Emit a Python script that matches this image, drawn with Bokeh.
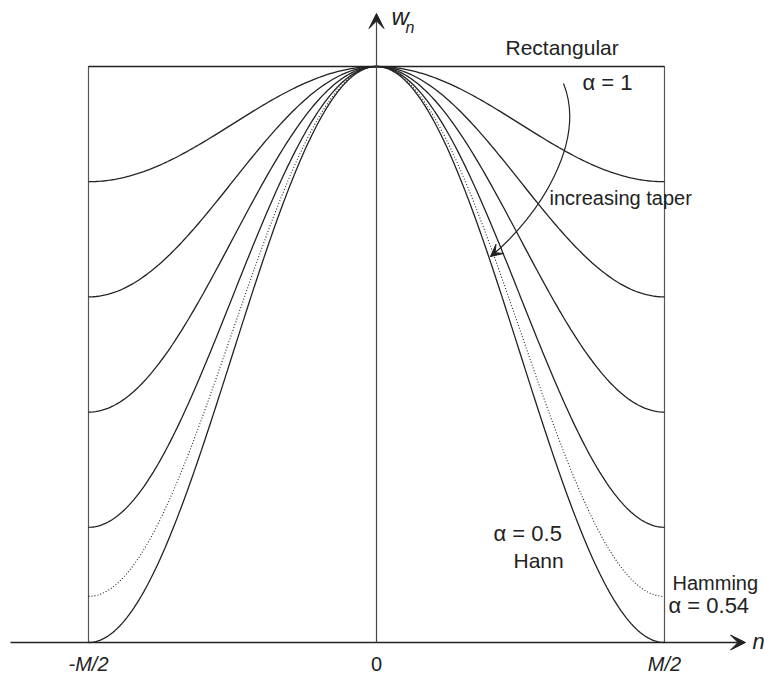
import numpy as np
from bokeh.plotting import figure
from bokeh.models import Range1d, Label, Arrow, VeeHead
from bokeh.embed import file_html
from bokeh.resources import INLINE

# ---- data ----
window_names = ["Rectangular", "a=0.9", "a=0.8", "a=0.7", "a=0.6", "Hamming", "Hann"]
alphas = [1.0, 0.9, 0.8, 0.7, 0.6, 0.54, 0.5]
dashes = ["solid", "solid", "solid", "solid", "solid", "1 2", "solid"]
x_tick_labels = ["-M/2", "0", "M/2"]
x_tick_values = [-0.5, 0.0, 0.5]
x_tick_italic = [True, False, True]

FONT = "Liberation Sans"
INK = "#222222"

# pixel geometry helpers (frame covers whole canvas)
W, H = 764, 675
X0, XS = 376.0, 576.0   # pixel of n=0, pixels per unit n/M
Y0, YS = 642.0, 576.0   # pixel of w=0, pixels per unit w


def dx(px):
    return (px - X0) / XS


def dy(py):
    return (Y0 - py) / YS


p = figure(width=W, height=H, output_backend="svg", toolbar_location=None,
           x_range=Range1d(dx(0), dx(W)), y_range=Range1d(dy(H), dy(0)),
           min_border=0, min_border_left=0, min_border_right=0,
           min_border_top=0, min_border_bottom=0)
p.axis.visible = False
p.grid.visible = False
p.outline_line_color = None
p.background_fill_color = "white"
p.border_fill_color = "white"

# box (window support)
p.line([-0.5, -0.5, 0.5, 0.5], [0.0, 1.0, 1.0, 0.0], line_color="#555555", line_width=1.2)

# window curves  w(n) = alpha + (1 - alpha) cos(2 pi n / M)
n = np.linspace(-0.5, 0.5, 241)
for name, a, d in zip(window_names, alphas, dashes):
    w = a + (1 - a) * np.cos(2 * np.pi * n)
    p.line(n, w, line_color=INK, line_width=1.3 if d == "solid" else 1.1, line_dash=d)

# axes with arrows
p.add_layout(Arrow(end=VeeHead(size=15, fill_color=INK, line_color=INK),
                   x_start=dx(10), y_start=0.0, x_end=dx(745), y_end=0.0,
                   line_color=INK, line_width=1.7))
p.add_layout(Arrow(end=VeeHead(size=15, fill_color=INK, line_color=INK),
                   x_start=0.0, y_start=0.0, x_end=0.0, y_end=dy(13),
                   line_color="#444444", line_width=1.2))

# tick labels
for lab_t, xv, it in zip(x_tick_labels, x_tick_values, x_tick_italic):
    p.add_layout(Label(x=xv, y=dy(663), text=lab_t, text_font=FONT,
                       text_font_style="italic" if it else "normal",
                       text_font_size="20px", text_align="center", text_baseline="middle",
                       text_color=INK))

# axis names
p.add_layout(Label(x=dx(752), y=dy(641), text="n", text_font=FONT, text_font_style="italic",
                   text_font_size="22px", text_align="left", text_baseline="middle", text_color=INK))
p.add_layout(Label(x=dx(391), y=dy(16), text="w", text_font=FONT, text_font_style="italic",
                   text_font_size="24px", text_align="left", text_baseline="middle", text_color=INK))
p.add_layout(Label(x=dx(405), y=dy(27), text="n", text_font=FONT, text_font_style="italic",
                   text_font_size="16px", text_align="left", text_baseline="middle", text_color=INK))


# annotations
def lab(px, py, t, size="20px"):
    p.add_layout(Label(x=dx(px), y=dy(py), text=t, text_font=FONT, text_font_size=size,
                       text_align="left", text_baseline="middle", text_color=INK))


lab(505, 47, "Rectangular", "21px")
lab(582, 82, "α = 1", "22px")
lab(549, 197, "increasing taper", "20px")
lab(493, 533, "α = 0.5", "22px")
lab(513, 560, "Hann", "21px")
lab(672, 582, "Hamming", "20px")
lab(668, 605, "α = 0.54", "22px")

# curved arrow (increasing taper)
P0 = (563, 83)
C0 = (586, 140)
C1 = (540, 215)
P3 = (490, 256)
p.bezier(x0=[dx(P0[0])], y0=[dy(P0[1])], x1=[dx(P3[0])], y1=[dy(P3[1])],
         cx0=[dx(C0[0])], cy0=[dy(C0[1])], cx1=[dx(C1[0])], cy1=[dy(C1[1])],
         line_color=INK, line_width=1.2)
tx, ty = P3[0] - C1[0], P3[1] - C1[1]
L = (tx * tx + ty * ty) ** 0.5
sx, sy = P3[0] - 4 * tx / L, P3[1] - 4 * ty / L
p.add_layout(Arrow(end=VeeHead(size=12, fill_color=INK, line_color=INK),
                   x_start=dx(sx), y_start=dy(sy), x_end=dx(P3[0]), y_end=dy(P3[1]),
                   line_color=INK, line_width=1.2))

open("out.html", "w").write(file_html(p, INLINE))
